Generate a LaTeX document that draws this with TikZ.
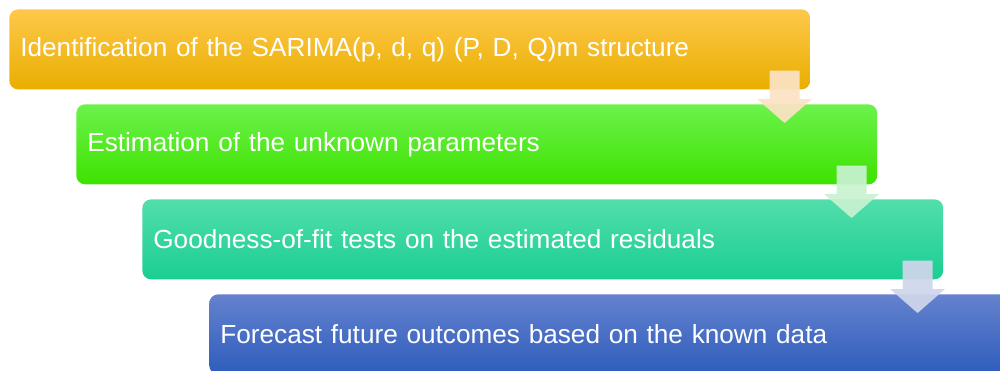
\documentclass[tikz,border=0pt]{standalone}
\usepackage{fontspec}
\setmainfont{Liberation Sans}
\usetikzlibrary{calc}
\definecolor{o1}{HTML}{FFC84A}\definecolor{o2}{HTML}{FFC000}\definecolor{o3}{HTML}{E8AE00}
\definecolor{g1}{HTML}{6CF24C}\definecolor{g2}{HTML}{4EEE14}\definecolor{g3}{HTML}{3EE200}
\definecolor{t1}{HTML}{52DEAC}\definecolor{t2}{HTML}{26D89C}\definecolor{t3}{HTML}{1ACE92}
\definecolor{b1c}{HTML}{6482CE}\definecolor{b2c}{HTML}{4670C8}\definecolor{b3c}{HTML}{2E5CBC}
\definecolor{ar1}{HTML}{FCE2C4}\definecolor{ar2}{HTML}{C8F2D0}\definecolor{ar3}{HTML}{D0D6EC}
\tikzset{
  stepbox/.style={rounded corners=5, minimum width=16.02cm, minimum height=1.6cm,
    text width=15.58cm, inner xsep=0.22cm, align=left, text=white,
    font=\fontsize{14.9}{17}\selectfont, anchor=north west},
  blockarrow/.style={opacity=0.93},
}
\newcommand{\blockarr}[3]{% top, tip, colour
  \fill[blockarrow, fill=#3] ($(#1)+(-15,0)$) -- ($(#1)+(15,0)$) -- ($(#2)+(15,-24)$) -- ($(#2)+(27.5,-24)$) -- (#2) -- ($(#2)+(-27.5,-24)$) -- ($(#2)+(-15,-24)$) -- cycle;}
\begin{document}
\begin{tikzpicture}[x=0.02cm,y=-0.02cm]
\useasboundingbox (0,0) rectangle (1000,370);
\clip (0,0) rectangle (1000,370);
\node[stepbox, top color=o1, middle color=o2, bottom color=o3] (b1) at (9,9) {Identification of the SARIMA(p, d, q) (P, D, Q)m structure};
\node[stepbox, top color=g1, middle color=g2, bottom color=g3] (b2) at (76,104) {Estimation of the unknown parameters};
\node[stepbox, top color=t1, middle color=t2, bottom color=t3] (b3) at (142,199) {Goodness-of-fit tests on the estimated residuals};
\node[stepbox, top color=b1c, middle color=b2c, bottom color=b3c] (b4) at (209,294) {Forecast future outcomes based on the known data};
\coordinate (a1s) at ($(b1.south east)+(-26,-19)$);
\coordinate (a1t) at ($(a1s |- b2.north)+(0,19)$);
\coordinate (a2s) at ($(b2.south east)+(-26,-19)$);
\coordinate (a2t) at ($(a2s |- b3.north)+(0,19)$);
\coordinate (a3s) at ($(b3.south east)+(-26,-19)$);
\coordinate (a3t) at ($(a3s |- b4.north)+(0,19)$);
\blockarr{a1s}{a1t}{ar1}
\blockarr{a2s}{a2t}{ar2}
\blockarr{a3s}{a3t}{ar3}
\end{tikzpicture}
\end{document}
